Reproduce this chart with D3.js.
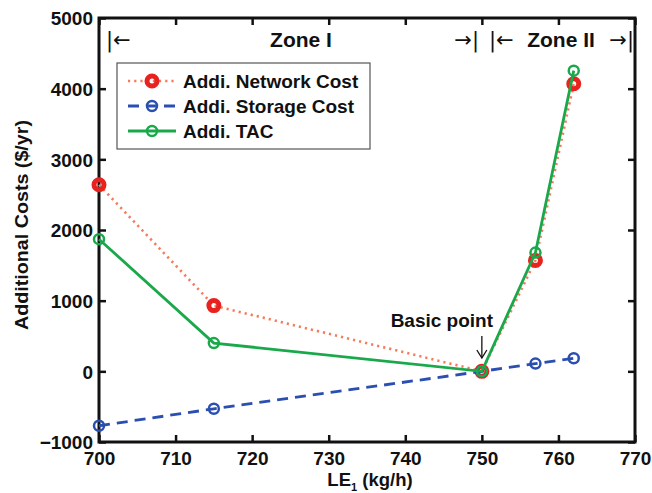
<!DOCTYPE html>
<html>
<head>
<meta charset="utf-8">
<script src="https://cdn.jsdelivr.net/npm/d3@7/dist/d3.min.js"></script>
<style>
  html, body { margin: 0; padding: 0; background: #fff; }
  text { font-family: Arial, "Liberation Sans", Helvetica, sans-serif; font-weight: bold; fill: #111; }
</style>
</head>
<body>
<svg id="chart" width="652" height="493"></svg>
<script>
// LE1 flow rates and additional cost series ($/yr)
const le1 = [700, 715, 750, 757, 762];
const networkCost = [2640, 930, 0, 1570, 4070];
const storageCost = [-770, -530, 0, 110, 185];
const tacCost = [1870, 400, 0, 1680, 4255];
const xTicks = [700, 710, 720, 730, 740, 750, 760, 770];
const yTicks = [-1000, 0, 1000, 2000, 3000, 4000, 5000];
const seriesNames = ["Addi. Network Cost", "Addi. Storage Cost", "Addi. TAC"];

const svg = d3.select("#chart");
const m = { left: 99, right: 635, top: 18, bottom: 442 };

const x = d3.scaleLinear().domain([700, 770]).range([m.left, m.right]);
const y = d3.scaleLinear().domain([-1000, 5000]).range([m.bottom, m.top]);

const series = [
  { name: seriesNames[0], values: networkCost, line: "#f47c5c", marker: "#e8221e", dash: "2.2,4", lw: 2.6, r: 5, mw: 5 },
  { name: seriesNames[1], values: storageCost, line: "#2a4fb0", marker: "#2a4fb0", dash: "11,7", lw: 2.8, r: 5, mw: 2.5 },
  { name: seriesNames[2], values: tacCost, line: "#19a94a", marker: "#19a94a", dash: null, lw: 2.8, r: 5, mw: 2.5 }
];

// axes with inward ticks on all four sides
const tickLen = 7;
const axFont = "19px";
const axBottom = svg.append("g").attr("transform", `translate(0,${m.bottom})`)
  .call(d3.axisBottom(x).tickValues(xTicks).tickSizeInner(-tickLen).tickSizeOuter(0).tickPadding(10));
const axTop = svg.append("g").attr("transform", `translate(0,${m.top})`)
  .call(d3.axisTop(x).tickValues(xTicks).tickSizeInner(-tickLen).tickSizeOuter(0).tickFormat(""));
const axLeft = svg.append("g").attr("transform", `translate(${m.left},0)`)
  .call(d3.axisLeft(y).tickValues(yTicks).tickSizeInner(-tickLen).tickSizeOuter(0).tickPadding(6)
    .tickFormat(d => d < 0 ? "\u2212" + Math.abs(d) : d));
const axRight = svg.append("g").attr("transform", `translate(${m.right},0)`)
  .call(d3.axisRight(y).tickValues(yTicks).tickSizeInner(-tickLen).tickSizeOuter(0).tickFormat(""));

[axBottom, axTop, axLeft, axRight].forEach(g => {
  g.select(".domain").remove();
  g.selectAll(".tick line").attr("stroke", "#111").attr("stroke-width", 2.5);
  g.selectAll(".tick text").style("font-size", axFont).style("font-weight", "bold")
    .style("font-family", "Arial, 'Liberation Sans', sans-serif").attr("fill", "#111");
});
axLeft.selectAll(".tick text").attr("dy", "0.36em");

svg.append("rect")
  .attr("x", m.left).attr("y", m.top)
  .attr("width", m.right - m.left).attr("height", m.bottom - m.top)
  .attr("fill", "none").attr("stroke", "#111").attr("stroke-width", 3);

// axis titles
svg.append("text")
  .attr("transform", "translate(28,225) rotate(-90)")
  .attr("text-anchor", "middle").style("font-size", "19px")
  .attr("textLength", 210).attr("lengthAdjust", "spacingAndGlyphs")
  .text("Additional Costs ($/yr)");

const xl = svg.append("text").attr("x", (m.left + m.right) / 2 + 3).attr("y", 486)
  .attr("text-anchor", "middle").style("font-size", "18.5px");
xl.append("tspan").text("LE");
xl.append("tspan").attr("dy", 5).style("font-size", "11px").text("1");
xl.append("tspan").attr("dy", -5).text(" (kg/h)");

// series lines and markers
const line = d3.line().x((d, i) => x(le1[i])).y(d => y(d));
series.forEach(s => {
  svg.append("path").datum(s.values)
    .attr("d", line).attr("fill", "none")
    .attr("stroke", s.line).attr("stroke-width", s.lw)
    .attr("stroke-dasharray", s.dash);
  svg.append("g").selectAll("circle").data(s.values).join("circle")
    .attr("cx", (d, i) => x(le1[i])).attr("cy", d => y(d))
    .attr("r", s.r).attr("fill", "none")
    .attr("stroke", s.marker).attr("stroke-width", s.mw);
});

// zone annotations
const zoneY = 47;
const arrowStyle = t => t.style("font-weight", "normal").style("font-size", "21px")
  .style("font-family", "'DejaVu Sans', sans-serif");
svg.append("text").attr("x", 106).attr("y", zoneY).call(arrowStyle).text("|\u2190");
svg.append("text").attr("x", 301).attr("y", zoneY).attr("text-anchor", "middle")
  .style("font-size", "21px").text("Zone I");
svg.append("text").attr("x", 479).attr("y", zoneY).attr("text-anchor", "end").call(arrowStyle).text("\u2192|");
svg.append("text").attr("x", 489).attr("y", zoneY).call(arrowStyle).text("|\u2190");
svg.append("text").attr("x", 561).attr("y", zoneY).attr("text-anchor", "middle")
  .style("font-size", "21px").text("Zone II");
svg.append("text").attr("x", 634).attr("y", zoneY).attr("text-anchor", "end").call(arrowStyle).text("\u2192|");

// basic point callout
const bx = x(le1[2]);
svg.append("text").attr("x", bx - 40).attr("y", 327).attr("text-anchor", "middle")
  .style("font-size", "19px").text("Basic point");
svg.append("line").attr("x1", bx).attr("x2", bx).attr("y1", 336).attr("y2", 358)
  .attr("stroke", "#111").attr("stroke-width", 1.3);
svg.append("path").attr("d", `M${bx - 5},${350} L${bx},${358} L${bx + 5},${350}`)
  .attr("fill", "none").attr("stroke", "#111").attr("stroke-width", 1.3);

// legend
const lg = svg.append("g");
lg.append("rect").attr("x", 117).attr("y", 63).attr("width", 253).attr("height", 86)
  .attr("fill", "#fff").attr("stroke", "#555").attr("stroke-width", 1.2);
series.forEach((s, i) => {
  const ly = 81 + i * 25;
  lg.append("line").attr("x1", 128).attr("x2", 176).attr("y1", ly).attr("y2", ly)
    .attr("stroke", s.line).attr("stroke-width", s.lw).attr("stroke-dasharray", s.dash);
  lg.append("circle").attr("cx", 152).attr("cy", ly).attr("r", s.r)
    .attr("fill", "none").attr("stroke", s.marker).attr("stroke-width", s.mw);
  lg.append("text").attr("x", 183).attr("y", ly).attr("dy", "0.36em")
    .style("font-size", "19px").text(s.name);
});
</script>
</body>
</html>
